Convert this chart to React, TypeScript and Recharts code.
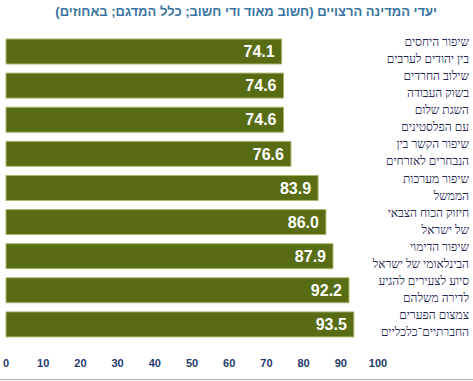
import React from 'react';
import { BarChart, Bar, XAxis, YAxis, LabelList } from 'recharts';

// category labels, two lines each (top to bottom)
const goalLine1 = [
  'שיפור היחסים',
  'שילוב החרדים',
  'השגת שלום',
  'שיפור הקשר בין',
  'שיפור מערכות',
  'חיזוק הכוח הצבאי',
  'שיפור הדימוי',
  'סיוע לצעירים להגיע',
  'צמצום הפערים',
];
const goalLine2 = [
  'בין יהודים לערבים',
  'בשוק העבודה',
  'עם הפלסטינים',
  'הנבחרים לאזרחים',
  'הממשל',
  'של ישראל',
  'הבינלאומי של ישראל',
  'לדירה משלהם',
  'החברתיים־כלכליים',
];
const importantPct = [74.1, 74.6, 74.6, 76.6, 83.9, 86.0, 87.9, 92.2, 93.5];
const xTicks = [0, 10, 20, 30, 40, 50, 60, 70, 80, 90, 100];

const data = importantPct.map((v, i) => ({
  goal: goalLine1[i] + '\n' + goalLine2[i],
  value: v,
}));

const GoalTick = (props: any) => {
  const { x, y, payload } = props;
  const [l1, l2] = String(payload.value).split('\n');
  const tx = x + 83;
  return (
    <text
      x={tx}
      y={y}
      textAnchor="end"
      fill="#23234f"
      fontFamily="Liberation Serif"
      fontSize={12}
    >
      <tspan x={tx} y={y - 5}>{l1}</tspan>
      <tspan x={tx} y={y + 12}>{l2}</tspan>
    </text>
  );
};

export default function App() {
  return (
    <div style={{ position: 'absolute', left: 0, top: 0, width: 473, height: 381, background: '#fff' }}>
      <div
        dir="rtl"
        style={{
          position: 'absolute',
          top: 4,
          right: 36,
          whiteSpace: 'nowrap',
          fontFamily: 'Liberation Sans',
          fontWeight: 'bold',
          fontSize: 13,
          color: '#3a74a0',
        }}
      >
        יעדי המדינה הרצויים (חשוב מאוד ודי חשוב; כלל המדגם; באחוזים)
      </div>
      <BarChart
        width={473}
        height={381}
        data={data}
        layout="vertical"
        margin={{ top: 34, right: 0, bottom: 10, left: 6 }}
      >
        <XAxis
          type="number"
          domain={[0, 100]}
          ticks={xTicks}
          axisLine={false}
          tickLine={false}
          tickSize={0}
          tickMargin={18}
          height={30}
          interval={0}
          tick={{ fill: '#1f3a6e', fontSize: 11, fontWeight: 'bold', fontFamily: 'Liberation Sans' }}
        />
        <YAxis
          type="category"
          dataKey="goal"
          orientation="right"
          width={95}
          axisLine={false}
          tickLine={false}
          interval={0}
          tick={<GoalTick />}
        />
        <Bar
          dataKey="value"
          fill="#586c14"
          stroke="#aab56e"
          strokeWidth={1}
          barSize={25}
          isAnimationActive={false}
        >
          <LabelList
            dataKey="value"
            position="insideRight"
            offset={7}
            formatter={(v: any) => Number(v).toFixed(1)}
            fill="#ffffff"
            style={{ fontFamily: 'Liberation Sans', fontWeight: 'bold', fontSize: 16 }}
          />
        </Bar>
      </BarChart>
      <div style={{ position: 'absolute', left: 0, top: 379, width: 473, height: 1, background: '#b0b0b0' }} />
    </div>
  );
}
